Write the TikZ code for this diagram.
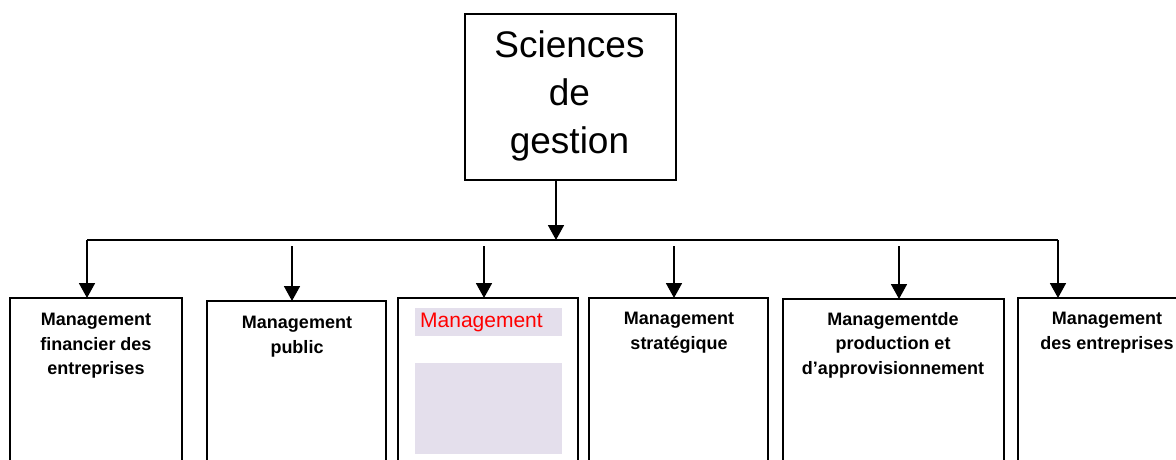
\documentclass[tikz,border=0pt]{standalone}
\usepackage{fontspec}
\setmainfont{Liberation Sans}
\usetikzlibrary{arrows.meta}
\definecolor{lav}{HTML}{E4DFEC}
\begin{document}
\begin{tikzpicture}[x=1pt,y=-1pt,
  box/.style={draw=black,line width=1.6pt},
  conn/.style={draw=black,line width=1.8pt},
  arr/.style={conn,-{Triangle[width=16pt,length=15pt]}},
  lbl/.style={align=center,font=\fontsize{18}{24.5}\selectfont\bfseries,inner sep=0pt,anchor=north}]
\useasboundingbox (0,0) rectangle (1176,459);
\clip (0,0) rectangle (1176,459);
% top box
\node[box,minimum width=211pt,minimum height=166pt,anchor=north west,inner sep=0pt] (top) at (464,13) {};
\node[align=center,font=\fontsize{37}{48}\selectfont,inner sep=0pt] (toptxt) at (569.5,96) {Sciences\\de\\gestion};
% boxes
\draw[box] (10,470) -- (10,298) -- (182,298) -- (182,470);
\draw[box] (207,470) -- (207,301) -- (386,301) -- (386,470);
\draw[box] (398,470) -- (398,298) -- (578,298) -- (578,470);
\draw[box] (589,470) -- (589,298) -- (768,298) -- (768,470);
\draw[box] (783,470) -- (783,299) -- (1004,299) -- (1004,470);
\draw[box] (1018,470) -- (1018,298) -- (1190,298);
\coordinate (b1) at (87,298);
\coordinate (b2) at (292,301);
\coordinate (b3) at (484,298);
\coordinate (b4) at (674,298);
\coordinate (b5) at (899,299);
\coordinate (b6) at (1058,298);
% lavender
\fill[lav] (415,308) rectangle (562,336);
\fill[lav] (415,363) rectangle (562,454);
% connectors
\coordinate (topb) at (556,179);
\coordinate (hub) at (556,240);
\coordinate (cl) at (87,240);
\coordinate (cr) at (1058,240);
\draw[arr] (topb) -- (hub);
\draw[conn] (cl) -- (cr);
\draw[arr] (cl) -- (b1);
\draw[arr] (cr) -- (b6);
\coordinate (s2) at (292,246);
\coordinate (s3) at (484,246);
\coordinate (s4) at (674,246);
\coordinate (s5) at (899,246);
\draw[arr] (s2) -- (b2);
\draw[arr] (s3) -- (b3);
\draw[arr] (s4) -- (b4);
\draw[arr] (s5) -- (b5);
% labels
\node[lbl] (l1) at (96,313) {Management\\financier des\\entreprises};
\node[lbl] (l2) at (297,316) {Management\\public};
\node[inner sep=0pt,anchor=west,text=red,font=\fontsize{21}{24}\selectfont] (l3) at (420,322) {Management};
\node[lbl] (l4) at (679,312) {Management\\stratégique};
\node[lbl] (l5) at (893,312) {Managementde\\production et\\d’approvisionnement};
\node[lbl] (l6) at (1107,312) {Management\\des entreprises};
\end{tikzpicture}
\end{document}
